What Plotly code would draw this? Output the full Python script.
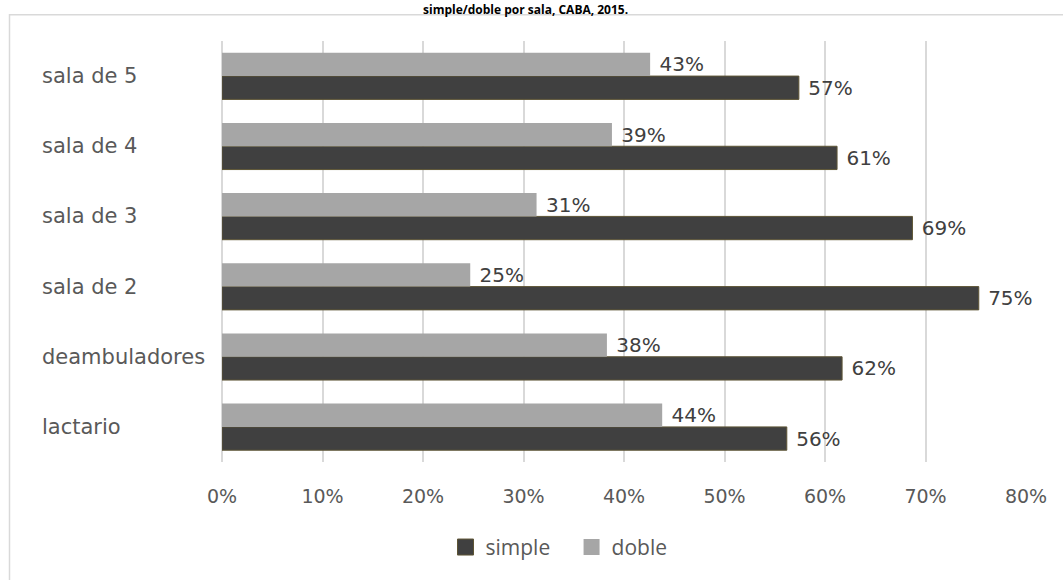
import plotly.graph_objects as go

categories = ["lactario", "deambuladores", "sala de 2", "sala de 3", "sala de 4", "sala de 5"]
simple_vals = [56.2, 61.7, 75.3, 68.7, 61.2, 57.4]
doble_vals = [43.8, 38.3, 24.7, 31.3, 38.8, 42.6]
simple_labels = ["56%", "62%", "75%", "69%", "61%", "57%"]
doble_labels = ["44%", "38%", "25%", "31%", "39%", "43%"]
title_text = "simple/doble por sala, CABA, 2015."

DARK = "#404040"
LIGHT = "#a6a6a6"
GRID = "#d9d9d9"
TXT = "#595959"

fig = go.Figure()
fig.add_trace(go.Bar(
    y=categories, x=simple_vals, orientation="h", name="simple",
    marker=dict(color=DARK, line=dict(color="#5e5535", width=1)),
    text=["\u00a0" + t for t in simple_labels], textposition="outside",
    textfont=dict(family="DejaVu Sans", size=20, color=DARK),
    cliponaxis=False, constraintext="none", showlegend=False,
))
fig.add_trace(go.Bar(
    y=categories, x=doble_vals, orientation="h", name="doble",
    marker=dict(color=LIGHT, line=dict(color=LIGHT, width=0)),
    text=["\u00a0" + t for t in doble_labels], textposition="outside",
    textfont=dict(family="DejaVu Sans", size=20, color=DARK),
    cliponaxis=False, constraintext="none", showlegend=False,
))
# legend proxies
fig.add_trace(go.Scatter(x=[None], y=[None], mode="markers", name="simple\u00a0\u00a0\u00a0",
                         marker=dict(symbol="square", size=16, color=DARK,
                                     line=dict(color="#5e5535", width=1))))
fig.add_trace(go.Scatter(x=[None], y=[None], mode="markers", name="doble",
                         marker=dict(symbol="square", size=16, color=LIGHT,
                                     line=dict(color=LIGHT, width=0))))

L, R, T, B = 222, 37, 41, 115
W, H = 1063, 580
pw = W - L - R
ph = H - T - B

def px_x(x):
    return (x - L) / pw

def px_y(y):
    return (H - B - y) / ph

annotations = []
for c in categories:
    annotations.append(dict(
        x=px_x(40), xref="paper", y=c, yref="y", text=c, showarrow=False,
        xanchor="left", yanchor="middle",
        font=dict(family="DejaVu Sans", size=21, color=TXT),
    ))
annotations.append(dict(
    x=px_x(525), xref="paper", y=px_y(-1), yref="paper", text="<b>" + title_text + "</b>",
    showarrow=False, xanchor="center", yanchor="top",
    font=dict(family="Open Sans", size=12, color="#000000"),
))

fig.update_layout(
    width=W, height=H,
    margin=dict(l=L, r=R, t=T, b=B, pad=0),
    paper_bgcolor="white", plot_bgcolor="white",
    barmode="group", bargap=0.336, bargroupgap=0,
    xaxis=dict(range=[0, 80], dtick=10, ticksuffix="%", showgrid=True,
               gridcolor=GRID, gridwidth=1.5, zeroline=True, zerolinecolor=GRID,
               zerolinewidth=1.5, showline=False, ticks="",
               tickfont=dict(family="DejaVu Sans", size=19, color=TXT),
               ticklabelstandoff=21, fixedrange=True),
    yaxis=dict(categoryorder="array", categoryarray=categories, showticklabels=False,
               showgrid=False, zeroline=False, showline=False, ticks="", fixedrange=True),
    legend=dict(orientation="h", x=px_x(559), xanchor="center", y=px_y(551), yanchor="middle",
                font=dict(family="Open Sans", size=21, color=TXT), itemwidth=30,
                bgcolor="rgba(0,0,0,0)"),
    annotations=annotations,
    shapes=[dict(type="rect", xref="paper", yref="paper",
                 x0=px_x(9.5), x1=px_x(1070), y0=px_y(600), y1=px_y(14.5),
                 line=dict(color=GRID, width=1.5), fillcolor="rgba(0,0,0,0)", layer="below")],
)

fig.write_html("out.html")
